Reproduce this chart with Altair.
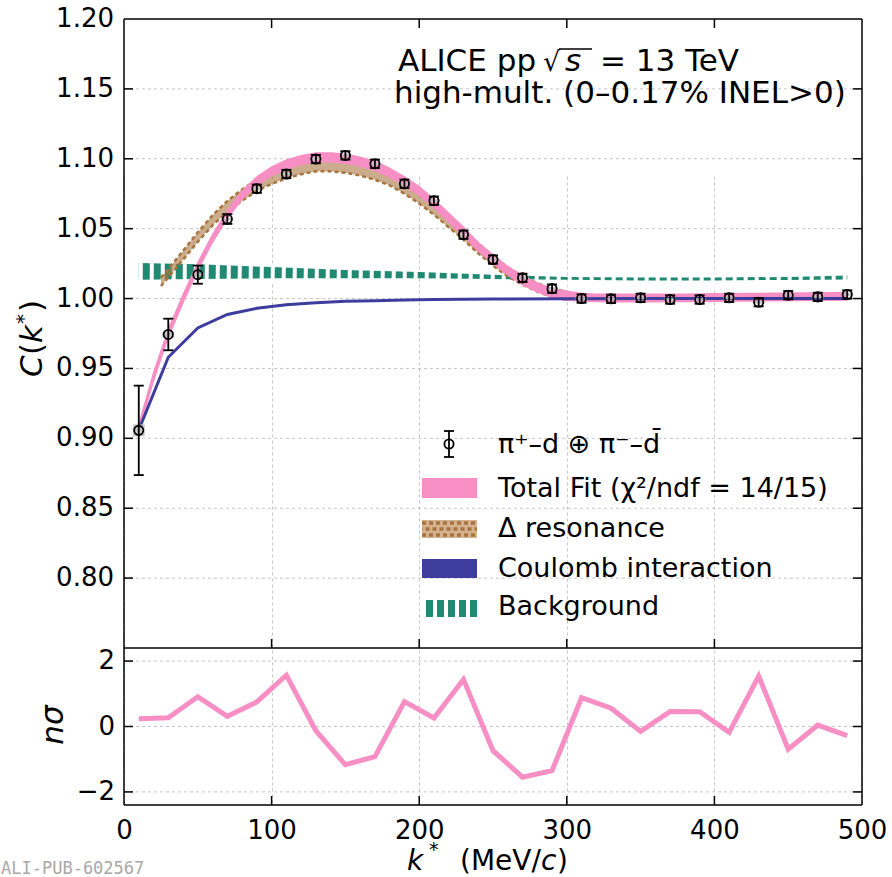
import altair as alt
import pandas as pd

# ------------------------------------------------------------------ data
k_pts = [10, 30, 50, 70, 90, 110, 130, 150, 170, 190, 210, 230, 250,
         270, 290, 310, 330, 350, 370, 390, 410, 430, 450, 470, 490]
C_pts = [0.9057, 0.9743, 1.0171, 1.0569, 1.0786, 1.0891, 1.0998, 1.1024,
         1.0964, 1.0821, 1.0700, 1.0457, 1.0279, 1.0148, 1.0071, 1.0000,
         0.9998, 1.0005, 0.9993, 0.9993, 1.0005, 0.9974, 1.0024, 1.0012, 1.0029]
C_err = [0.032, 0.0113, 0.0065, 0.0035, 0.003, 0.003, 0.003, 0.003, 0.003,
         0.003, 0.003, 0.003, 0.003, 0.003, 0.003, 0.003, 0.003, 0.003,
         0.003, 0.003, 0.003, 0.003, 0.003, 0.003, 0.003]
C_sys = [0.0043, 0.002, 0.0015, 0.001, 0.001, 0.001, 0.001, 0.001, 0.001,
         0.001, 0.001, 0.001, 0.001, 0.001, 0.001, 0.001, 0.001, 0.001,
         0.001, 0.001, 0.001, 0.001, 0.001, 0.001, 0.001]
n_sigma = [0.24, 0.27, 0.91, 0.31, 0.75, 1.57, -0.13, -1.17, -0.92, 0.76,
           0.26, 1.44, -0.74, -1.55, -1.35, 0.88, 0.56, -0.15, 0.46, 0.45,
           -0.18, 1.54, -0.69, 0.04, -0.28]

fit_k = list(range(10, 500, 10))
fit_c = [0.907, 0.944, 0.975, 1.000, 1.023, 1.043, 1.060, 1.074, 1.084, 1.091,
         1.096, 1.099, 1.101, 1.101, 1.100, 1.098, 1.095, 1.090, 1.084, 1.077,
         1.068, 1.058, 1.048, 1.037, 1.028, 1.020, 1.013, 1.008, 1.004, 1.002,
         1.001, 1.0005, 1.0004, 1.0004, 1.0004, 1.0004, 1.0005, 1.0005, 1.0006,
         1.0007, 1.0008, 1.0009, 1.0010, 1.0011, 1.0012, 1.0013, 1.0014, 1.0015, 1.0016]
fit_hw = [0.0045, 0.0045, 0.0042, 0.004] + [0.0037] * 26 + [0.0032] * 19

delta_k = [25, 30, 40, 50, 60, 70, 80, 90, 100, 110, 120, 130, 140, 150, 160,
           170, 180, 190, 200, 210, 220, 230, 240, 250, 260, 270, 280, 290, 300]
delta_c = [1.012, 1.018, 1.031, 1.044, 1.056, 1.066, 1.074, 1.081, 1.086, 1.090,
           1.093, 1.095, 1.095, 1.094, 1.092, 1.089, 1.085, 1.079, 1.072, 1.064,
           1.055, 1.046, 1.036, 1.027, 1.019, 1.013, 1.008, 1.004, 1.002]
delta_hw = [0.003, 0.003, 0.0032, 0.0034, 0.0036, 0.0038, 0.004, 0.004, 0.004,
            0.004, 0.004, 0.004, 0.004, 0.004, 0.004, 0.004, 0.004, 0.004, 0.004,
            0.004, 0.004, 0.0038, 0.0036, 0.0034, 0.0032, 0.003, 0.003, 0.003, 0.003]

bg_k = [10, 50, 100, 150, 200, 250, 300, 350, 400, 450, 490]
bg_lo = [1.0135, 1.0140, 1.0145, 1.0145, 1.0145, 1.0140, 1.0135, 1.0130, 1.0130, 1.0133, 1.0137]
bg_hi = [1.0255, 1.0245, 1.0225, 1.0205, 1.0190, 1.0170, 1.0155, 1.0150, 1.0150, 1.0155, 1.0165]

coul_k = [10, 30, 50, 70, 90, 110, 130, 150, 170, 190, 210, 250, 300, 350, 400, 490]
coul_c = [0.906, 0.958, 0.979, 0.9886, 0.993, 0.9955, 0.997, 0.998, 0.9985,
          0.999, 0.9993, 0.9996, 0.9998, 1.0, 1.0, 1.0]

x_ticks = [0, 100, 200, 300, 400, 500]
y_ticks = [0.80, 0.85, 0.90, 0.95, 1.00, 1.05, 1.10, 1.15, 1.20]
y_labels = ["0.80", "0.85", "0.90", "0.95", "1.00", "1.05", "1.10", "1.15", "1.20"]
n_ticks = [-2, 0, 2]
n_labels = ["−2", "0", "2"]

# ------------------------------------------------------------------ style / layout
PINK = "#f78fc5"
BLUE = "#3d3d9d"
TEAL = "#1f8a71"
BROWN = "#a8743f"
GRID = "#b5b5b5"
FONT = "DejaVu Sans"
W = 738          # plot width
H1 = 629         # upper panel height
H = 786          # both panels together

X = alt.Scale(domain=[0, 500], nice=False, zero=False)
Y = alt.Scale(domain=[0.75, 1.20], range=[H1, 0], nice=False, zero=False)
N = alt.Scale(domain=[-2.4, 2.4], range=[H, H1], nice=False, zero=False)

XA = alt.Axis(values=x_ticks, format="d", ticks=False, domain=False, title=None,
              grid=True, gridColor=GRID, gridDash=[3, 3], gridWidth=0.8,
              labelPadding=12, labelFlush=False, labelFont=FONT,
              labelFontSize=26, labelColor="black")

pts = pd.DataFrame({"k": k_pts, "C": C_pts, "err": C_err, "sys": C_sys})
pts["lo"] = pts.C - pts.err
pts["hi"] = pts.C + pts.err
pts["sl"] = pts.C - pts.sys
pts["sh"] = pts.C + pts.sys
pts["kl"] = pts.k - 3.4
pts["kr"] = pts.k + 3.4
pts["bl"] = pts.k - 4.0
pts["br"] = pts.k + 4.0

fit = pd.DataFrame({"k": fit_k, "c": fit_c, "hw": fit_hw})
fit["lo"] = fit.c - fit.hw
fit["hi"] = fit.c + fit.hw
dl = pd.DataFrame({"k": delta_k, "c": delta_c, "hw": delta_hw})
dl["lo"] = dl.c - dl.hw
dl["hi"] = dl.c + dl.hw
bg = pd.DataFrame({"k": bg_k, "lo": bg_lo, "hi": bg_hi})
bg["mid"] = (bg.lo + bg.hi) / 2
cl = pd.DataFrame({"k": coul_k, "c": coul_c})
ns = pd.DataFrame({"k": k_pts, "n": n_sigma})
ylab = pd.DataFrame({"v": y_ticks, "t": y_labels})
nlab = pd.DataFrame({"v": n_ticks, "t": n_labels})
xt = pd.DataFrame({"v": x_ticks[1:-1]})
yt = pd.DataFrame({"v": y_ticks[:-1]})
ntk = pd.DataFrame({"v": n_ticks})
one = pd.DataFrame({"a": [0]})


def xq(f):
    return alt.X(f, type="quantitative", scale=X, axis=XA)


def yq(f):
    return alt.Y(f, type="quantitative", scale=Y, axis=None)


def nq(f):
    return alt.Y(f, type="quantitative", scale=N, axis=None)


def txt(s, x, y, size=27, style="normal", angle=0, color="black", font=FONT,
        align="left"):
    return alt.Chart(one).mark_text(
        text=s, align=align, baseline="alphabetic", font=font, fontSize=size,
        fontStyle=style, angle=angle, color=color
    ).encode(x=alt.value(x), y=alt.value(y))


def box(x1, x2, y1, y2, color, **kw):
    return alt.Chart(one).mark_rect(color=color, **kw).encode(
        x=alt.value(x1), x2=alt.value(x2), y=alt.value(y1), y2=alt.value(y2))


def seg(x1, x2, y1, y2, color="black", width=1.5, **kw):
    return alt.Chart(one).mark_rule(color=color, strokeWidth=width, **kw).encode(
        x=alt.value(x1), x2=alt.value(x2), y=alt.value(y1), y2=alt.value(y2))


# ------------------------------------------------------------------ grids
hgrid_c = alt.Chart(yt).mark_rule(color=GRID, strokeWidth=0.8,
                                  strokeDash=[3, 3]).encode(
    y=yq("v"), x=alt.value(0), x2=alt.value(W))
hgrid_n = alt.Chart(ntk).mark_rule(color=GRID, strokeWidth=0.8,
                                   strokeDash=[3, 3]).encode(
    y=nq("v"), x=alt.value(0), x2=alt.value(W))

# ------------------------------------------------------------------ upper panel marks
bg_area = alt.Chart(bg).mark_area(color=TEAL, opacity=1).encode(
    x=xq("k"), y=yq("lo"), y2="hi")
bg_hatch = alt.Chart(bg).mark_line(color="white", strokeWidth=18,
                                   strokeDash=[4, 7], strokeCap="butt").encode(
    x=xq("k"), y=yq("mid"))

dl_area = alt.Chart(dl).mark_area(color=BROWN, opacity=0.6).encode(
    x=xq("k"), y=yq("lo"), y2="hi")
dl_lo = alt.Chart(dl).mark_line(color=BROWN, strokeWidth=2.5, strokeDash=[4, 3]).encode(
    x=xq("k"), y=yq("lo"))
dl_hi = alt.Chart(dl).mark_line(color=BROWN, strokeWidth=2.5, strokeDash=[4, 3]).encode(
    x=xq("k"), y=yq("hi"))

fit_area = alt.Chart(fit).mark_area(color=PINK, opacity=1).encode(
    x=xq("k"), y=yq("lo"), y2="hi")

coul = alt.Chart(cl).mark_line(color=BLUE, strokeWidth=3).encode(
    x=xq("k"), y=yq("c"))

sysbox = alt.Chart(pts).mark_rect(color="#bdbdbd", opacity=0.85).encode(
    x=xq("bl"), x2="br", y=yq("sl"), y2="sh")
ebar = alt.Chart(pts).mark_rule(color="black", strokeWidth=1.8).encode(
    x=xq("k"), y=yq("lo"), y2="hi")
cap_lo = alt.Chart(pts).mark_rule(color="black", strokeWidth=1.8).encode(
    x=xq("kl"), x2="kr", y=yq("lo"))
cap_hi = alt.Chart(pts).mark_rule(color="black", strokeWidth=1.8).encode(
    x=xq("kl"), x2="kr", y=yq("hi"))
points = alt.Chart(pts).mark_point(shape="circle", filled=False, size=85,
                                   color="black", strokeWidth=1.8, opacity=1).encode(
    x=xq("k"), y=yq("C"))

# ------------------------------------------------------------------ lower panel marks
ns_line = alt.Chart(ns).mark_line(color=PINK, strokeWidth=5).encode(
    x=xq("k"), y=nq("n"))

# ------------------------------------------------------------------ ticks (inward) and frame
ticks = [
    alt.Chart(xt).mark_rule(color="black", strokeWidth=1.5).encode(
        x=xq("v"), y=alt.value(0), y2=alt.value(9)),
    alt.Chart(xt).mark_rule(color="black", strokeWidth=1.5).encode(
        x=xq("v"), y=alt.value(H1 - 9), y2=alt.value(H1)),
    alt.Chart(xt).mark_rule(color="black", strokeWidth=1.5).encode(
        x=xq("v"), y=alt.value(H - 9), y2=alt.value(H)),
    alt.Chart(yt).mark_rule(color="black", strokeWidth=1.5).encode(
        y=yq("v"), x=alt.value(0), x2=alt.value(9)),
    alt.Chart(yt).mark_rule(color="black", strokeWidth=1.5).encode(
        y=yq("v"), x=alt.value(W - 9), x2=alt.value(W)),
    alt.Chart(ntk).mark_rule(color="black", strokeWidth=1.5).encode(
        y=nq("v"), x=alt.value(0), x2=alt.value(9)),
    alt.Chart(ntk).mark_rule(color="black", strokeWidth=1.5).encode(
        y=nq("v"), x=alt.value(W - 9), x2=alt.value(W)),
]
frame = [
    seg(0, W, 0, 0), seg(0, W, H1, H1), seg(0, W, H, H),
    seg(0, 0, 0, H), seg(W, W, 0, H),
]

# ------------------------------------------------------------------ y tick labels
ylabels = alt.Chart(ylab).mark_text(align="right", baseline="middle", font=FONT,
                                    fontSize=26, color="black").encode(
    y=yq("v"), x=alt.value(-10), text="t:N")
nlabels = alt.Chart(nlab).mark_text(align="right", baseline="middle", font=FONT,
                                    fontSize=26, color="black").encode(
    y=nq("v"), x=alt.value(-9), text="t:N")

# ------------------------------------------------------------------ annotation text
ann = [
    txt("ALICE pp", 274, 52, size=31),
    txt("√", 419, 52, size=27),
    txt("s", 441, 52, size=31, style="italic"),
    seg(435, 468, 30, 30, width=1.6),
    txt("= 13 TeV", 476, 52, size=31),
    txt("high-mult. (0–0.17% INEL>0)", 270, 84, size=31),
]

# ------------------------------------------------------------------ legend
leg = [
    seg(325, 325, 412, 438, width=1.8),
    seg(320, 330, 412, 412, width=1.8),
    seg(320, 330, 438, 438, width=1.8),
    alt.Chart(one).mark_point(shape="circle", filled=False, size=85, color="black",
                              strokeWidth=1.8, opacity=1).encode(
        x=alt.value(325), y=alt.value(425)),
    txt("π⁺–d ⊕ π⁻–d\u0304", 374, 434),
    box(298, 353, 459, 479, PINK),
    txt("Total Fit (χ²/ndf = 14/15)", 374, 478),
    box(298, 353, 501, 519, "#d4b290"),
    seg(298, 353, 504, 504, color=BROWN, width=3.5, strokeDash=[4, 3]),
    seg(298, 353, 510, 510, color=BROWN, width=3.5, strokeDash=[4, 3], strokeDashOffset=3.5),
    seg(298, 353, 516, 516, color=BROWN, width=3.5, strokeDash=[4, 3]),
    txt("Δ resonance", 374, 518),
    box(298, 353, 540, 559, BLUE),
    txt("Coulomb interaction", 374, 558),
    box(298, 353, 581, 598, TEAL),
    seg(298, 353, 589.5, 589.5, color="white", width=18, strokeDash=[4, 7]),
    txt("Background", 374, 596),
]

# ------------------------------------------------------------------ axis titles
titles = [
    txt("C", -82, 358, size=31, style="italic", angle=270),
    txt("(", -82, 336, size=31, angle=270),
    txt("k", -82, 324, size=31, style="italic", angle=270),
    txt("*", -94, 305, size=20, angle=270),
    txt(")", -82, 293, size=31, angle=270),
    txt("nσ", -61, 706, size=31, style="italic", angle=270, align="center"),
    txt("k", 283, 851, size=28, style="italic"),
    txt("*", 305, 837, size=19),
    txt("(MeV/", 336, 851, size=28),
    txt("c", 417, 851, size=28, style="italic"),
    txt(")", 433, 851, size=28),
]
watermark = txt("ALI-PUB-602567", -123, 855, size=17, color="#a8a8a8",
                font="DejaVu Sans Mono")
bound = seg(-123.5, -123, -18, -18, color="white", width=1)

chart = alt.layer(
    hgrid_c, hgrid_n,
    bg_area, bg_hatch, dl_area, dl_lo, dl_hi, fit_area, coul,
    sysbox, ebar, cap_lo, cap_hi, points, ns_line,
    *ticks, *frame, ylabels, nlabels, *ann, *leg, *titles, watermark, bound
).resolve_scale(
    y="independent"
).properties(
    width=W, height=H,
    padding={"left": 0, "top": 0, "right": 0, "bottom": 0},
    background="white"
).configure_view(
    stroke=None
)

chart.save("out.html", embed_options={"renderer": "svg", "actions": False})
